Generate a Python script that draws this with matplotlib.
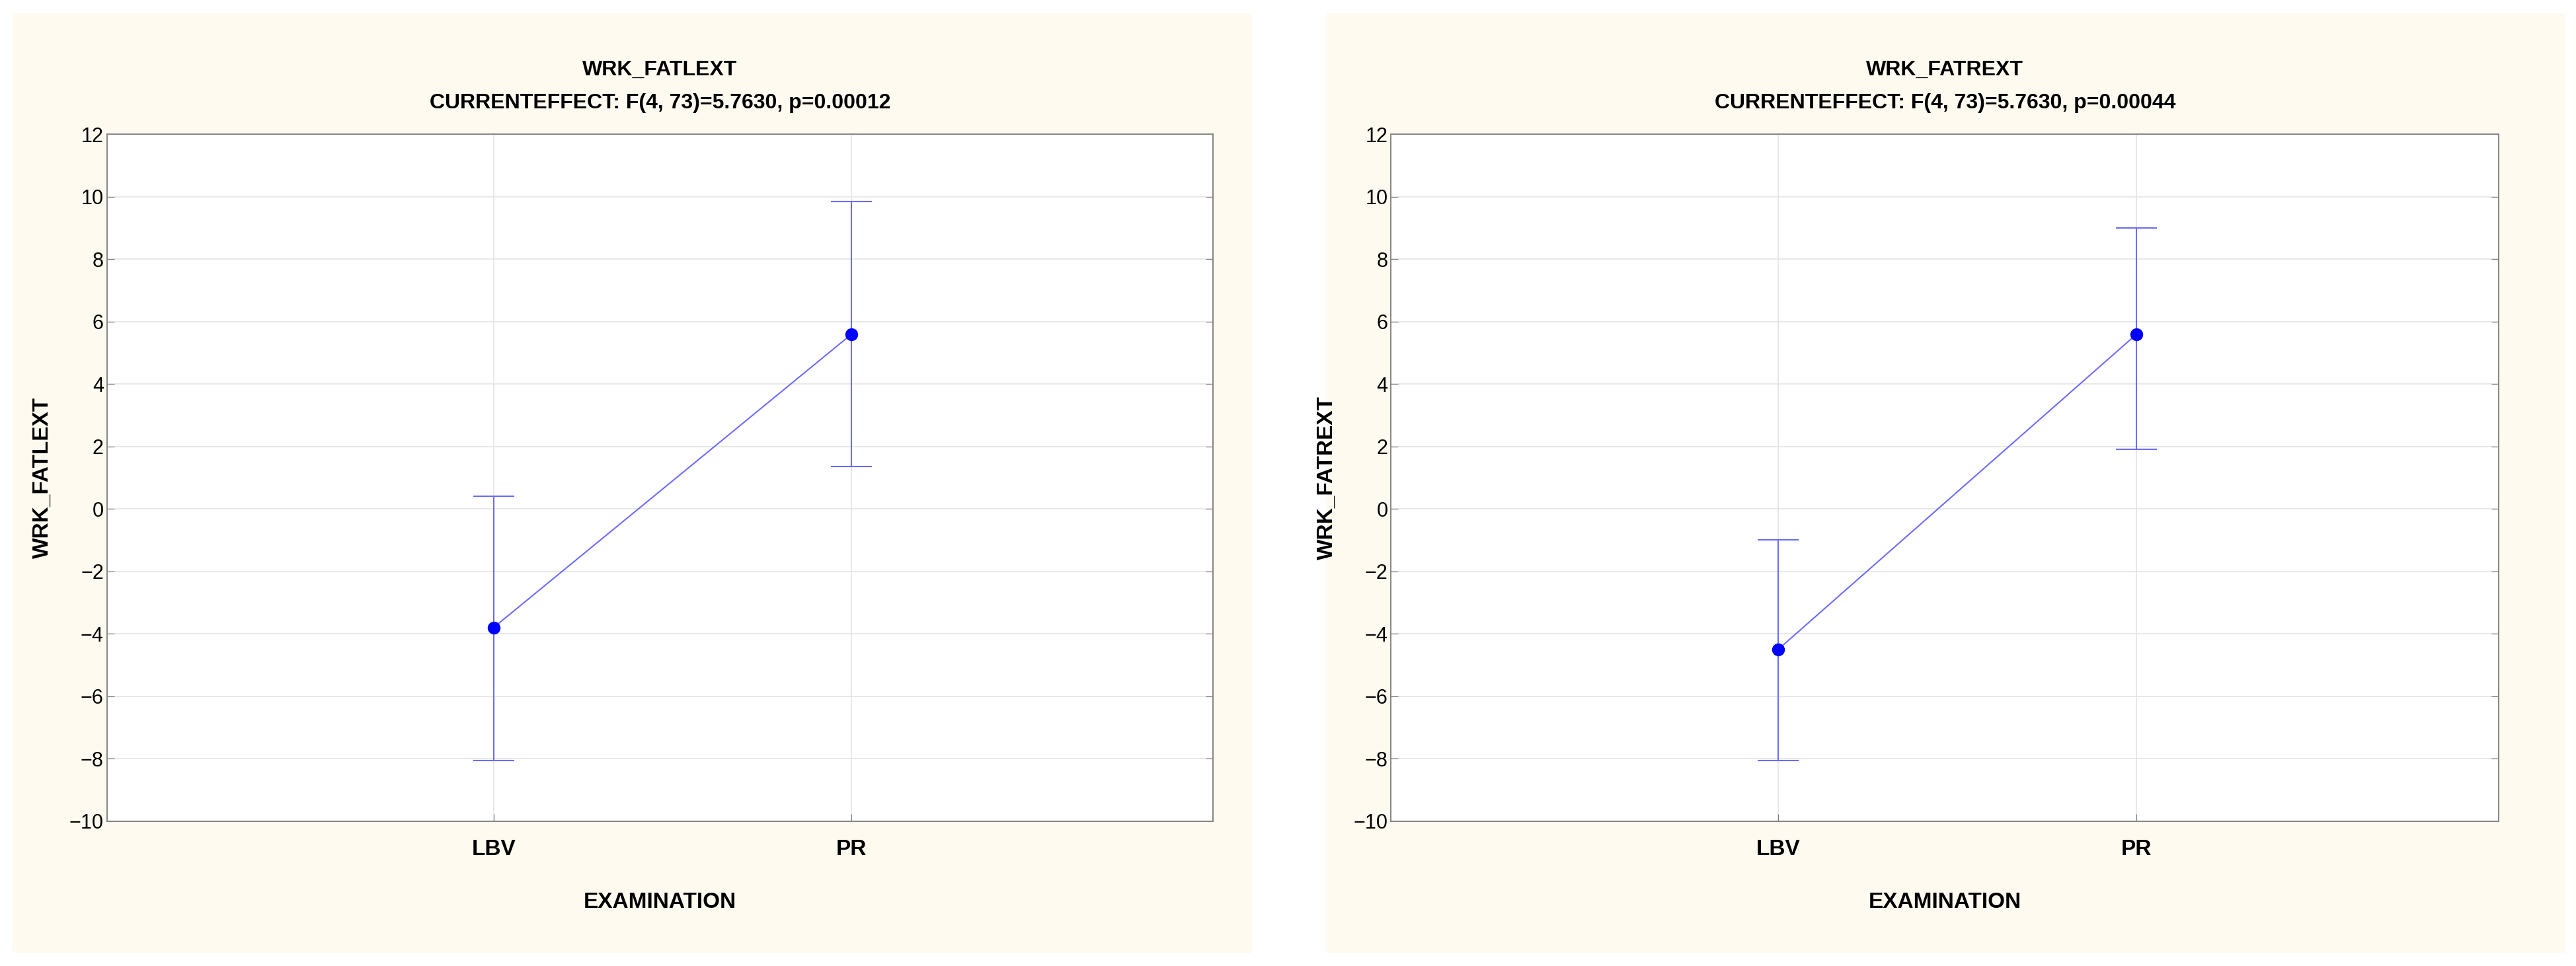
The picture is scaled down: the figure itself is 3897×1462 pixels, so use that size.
import matplotlib.pyplot as plt
from matplotlib.patches import Rectangle

plt.rcParams['font.family'] = ['Liberation Sans', 'DejaVu Sans']

groups = ["LBV", "PR"]
titles = ["WRK_FATLEXT", "WRK_FATREXT"]
pvalues = ["0.00012", "0.00044"]
means = [[-3.8, 5.6], [-4.5, 5.6]]
lower = [[-8.05, 1.35], [-8.05, 1.9]]
upper = [[0.4, 9.85], [-1.0, 9.0]]
yticks = list(range(-10, 13, 2))

fig = plt.figure(figsize=(38.97, 14.62), dpi=100)
fig.patch.set_facecolor("white")

panels = [(0.005, 0.0415, 0.4295), (0.515, 0.540, 0.430)]
for i, (bgx, axx, axw) in enumerate(panels):
    fig.patches.append(Rectangle((bgx, 0.014), 0.481, 0.972, transform=fig.transFigure,
                                 facecolor="#fffaf0", edgecolor="none", zorder=-5))
    ax = fig.add_axes([axx, 0.150, axw, 0.711])
    ax.set_zorder(2)
    ax.set_facecolor("white")
    x = [1, 2]
    yerr = [[m - l for m, l in zip(means[i], lower[i])],
            [u - m for m, u in zip(means[i], upper[i])]]
    ax.errorbar(x, means[i], yerr=yerr, color="#6b6bff", lw=1.5, capsize=22,
                capthick=1.5, fmt="none", zorder=3)
    ax.plot(x, means[i], color="#6b6bff", lw=1.5, zorder=3)
    ax.plot(x, means[i], "o", color="#0000ff", ms=13, zorder=4)
    ax.set_xlim(-0.08, 3.01)
    ax.set_ylim(-10, 12)
    ax.set_yticks(yticks)
    ax.set_xticks(x)
    ax.set_xticklabels(groups, fontweight="bold")
    ax.tick_params(axis="y", labelsize=22, direction="in", right=True, length=8, color="#777777")
    ax.tick_params(axis="x", labelsize=24, direction="in", length=8, pad=20, color="#777777")
    ax.grid(True, color="#e4e4e4", lw=1.2)
    ax.set_axisbelow(True)
    for s in ax.spines.values():
        s.set_color("#888888")
        s.set_linewidth(1.5)
    ax.set_ylabel(titles[i], fontsize=24, fontweight="bold", labelpad=18)
    ax.set_xlabel("EXAMINATION", fontsize=24, fontweight="bold", labelpad=35)
    ax.set_title(titles[i] + "\nCURRENTEFFECT: F(4, 73)=5.7630, p=" + pvalues[i],
                 fontsize=23, fontweight="bold", linespacing=1.9, pad=28)

fig.savefig("out.png", dpi=100)
